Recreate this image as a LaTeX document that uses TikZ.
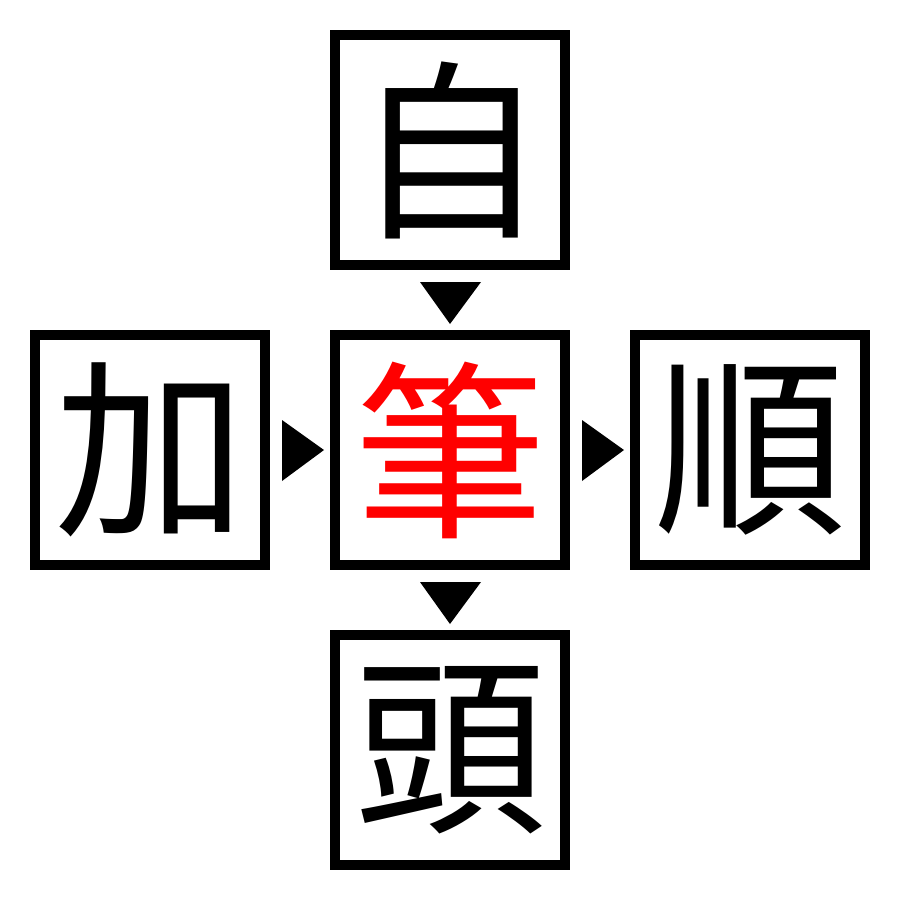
\documentclass[tikz,border=0pt]{standalone}
\usepackage{fontspec}
\usetikzlibrary{calc}
\newfontfamily\cjk{Noto Sans CJK JP}
\begin{document}
\begin{tikzpicture}[x=1pt,y=-1pt,
  kbox/.style={draw=black,line width=10pt,minimum width=230pt,minimum height=230pt,inner sep=0pt,font=\cjk\fontsize{192}{192}\selectfont,anchor=center},
  tri/.style={fill=black,draw=none}]
\useasboundingbox (0,0) rectangle (900,900);
\node[kbox] (top) at (450,150) {自};
\node[kbox,text=red] (mid) at (450,450) {筆};
\node[kbox] (left) at (150,450) {加};
\node[kbox] (right) at (750,450) {順};
\node[kbox] (bot) at (450,750) {頭};
\coordinate (d1) at ($(top.south)!0.5!(mid.north)$);
\coordinate (d2) at ($(mid.south)!0.5!(bot.north)$);
\coordinate (r1) at ($(left.east)!0.5!(mid.west)$);
\coordinate (r2) at ($(mid.east)!0.5!(right.west)$);
\fill[tri] ($(d1)+(-30,-18)$) -- ($(d1)+(31,-18)$) -- ($(d1)+(0,24)$) -- cycle;
\fill[tri] ($(d2)+(-30,-18)$) -- ($(d2)+(31,-18)$) -- ($(d2)+(0,24)$) -- cycle;
\fill[tri] ($(r1)+(-18,-30)$) -- ($(r1)+(-18,31)$) -- ($(r1)+(24,0)$) -- cycle;
\fill[tri] ($(r2)+(-18,-30)$) -- ($(r2)+(-18,31)$) -- ($(r2)+(24,0)$) -- cycle;
\end{tikzpicture}
\end{document}
